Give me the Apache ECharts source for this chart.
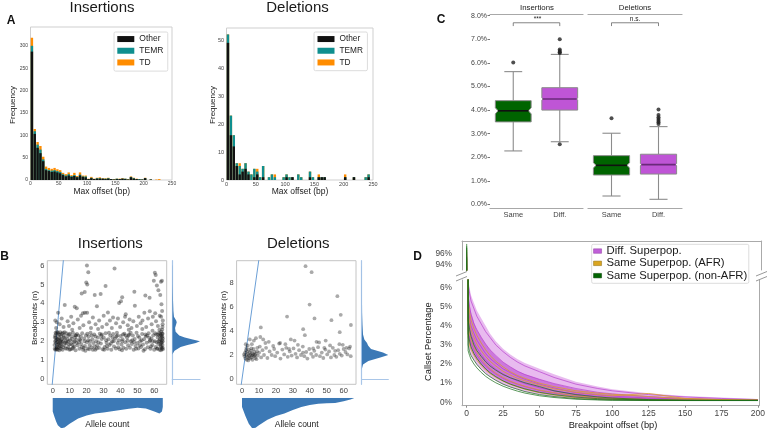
<!DOCTYPE html>
<html><head><meta charset="utf-8">
<script src="https://cdn.jsdelivr.net/npm/echarts@6/dist/echarts.min.js"></script>
<style>html,body{margin:0;padding:0;background:#fff}#c{width:768px;height:432px}</style>
</head><body><div id="c"></div>
<script>
// ---------- Panel A: histograms (5 bp bins) ----------
const histBins = [0,5,10,15,20,25,30,35,40,45,50,55,60,65,70,75,80,85,90,95,100,105,110,115,120,125,130,135,140,145,150,155,160,165,170,175,180,185,190,195,200,205,210,215,220,225,230,235,240,245];
const insOther = [287,103,72,60,42,22,20,18,19,17,15,11,8,10,7,9,6,10,7,6,2,4,2,3,3,3,2,3,2,1,2,2,3,2,1,6,3,2,1,1,4,0,1,0,0,0,0,0,0,0];
const insTEMR  = [13,6,7,8,4,3,2,3,3,3,3,2,2,3,2,2,1,2,1,2,0,1,0,1,1,0,1,1,0,0,1,0,0,1,0,1,1,0,1,0,0,0,0,0,0,0,0,0,0,0];
const insTD    = [18,5,6,8,6,5,5,4,5,4,4,3,3,4,2,5,2,5,2,2,1,2,1,1,2,1,1,1,0,1,0,1,1,0,1,1,1,1,0,0,1,0,0,0,1,2,0,0,0,0];
const delOther = [49,16,12,5,2,3,4,2,0,1,2,0,1,0,0,0,0,0,0,0,1,0,1,0,0,0,0,0,1,0,0,1,1,1,0,0,0,0,0,0,1,0,0,1,0,0,0,0,1,0];
const delTEMR  = [3,7,4,1,3,1,2,1,2,3,1,1,4,0,1,2,1,0,0,1,1,1,0,0,2,1,0,0,2,1,0,0,0,0,0,0,0,0,0,0,0,0,0,0,0,0,0,1,1,0];
const delTD    = [0,0,0,0,1,0,0,0,0,0,1,0,0,0,0,0,1,0,0,0,0,0,0,0,0,0,0,0,0,0,0,1,0,0,0,0,0,0,0,0,1,0,0,0,0,0,0,0,0,0];
const histCats = ['Other','TEMR','TD'];

// ---------- Panel B: scatter points [allele count, breakpoints] ----------
const insPoints = [
[1.2,1.6],[1.5,2.3],[1.8,1.9],[2.1,2.4],[2.3,1.7],[2.6,2.1],[2.9,1.55],[3.1,2.45],[3.4,1.85],[3.7,2.2],[4.0,1.65],[4.2,2.35],[4.5,1.95],[4.8,2.05],[5.1,1.75],[1.4,2.0],[1.9,2.2],[2.4,1.58],[2.8,1.95],[3.3,2.1],[3.9,1.52],[4.4,2.48],[5.0,2.25],[1.1,1.8],[2.0,2.05],[3.0,1.7],[3.6,1.9],[4.7,1.6],[1.7,2.45],[2.2,1.62],
[5.4,2.4],[5.8,1.55],[6.1,2.0],[6.5,2.3],[6.9,1.8],[7.2,2.15],[7.6,1.62],[8.0,2.42],[8.3,1.9],[8.7,2.1],[9.1,1.7],[9.5,2.35],[9.9,1.55],[10.3,2.05],[10.7,1.85],[11.1,2.25],[11.5,1.6],[11.9,2.45],[12.3,1.95],[12.7,1.72],[13.1,2.2],[13.5,1.52],[13.9,2.08],[14.3,2.38],[14.7,1.78],[5.6,1.95],[6.3,1.68],[7.0,2.48],[7.9,1.98],[8.9,2.28],[9.7,1.82],[10.5,1.58],[11.3,2.12],[12.1,1.66],[13.3,2.32],[14.1,1.9],[6.7,2.2],[8.5,1.6],[10.1,2.4],[12.9,2.0],
[15.2,2.3],[15.8,1.6],[16.3,2.05],[16.9,1.85],[17.4,2.42],[17.9,1.55],[18.5,2.15],[19.0,1.75],[19.6,2.3],[20.1,1.95],[20.7,1.62],[21.2,2.25],[21.8,1.8],[22.3,2.45],[22.9,1.68],[23.4,2.1],[24.0,1.9],[24.5,2.35],[25.1,1.55],[25.6,2.0],[26.2,1.78],[26.7,2.2],[27.3,1.65],[27.8,2.4],[28.4,1.88],[28.9,2.12],[29.5,1.58],[15.5,1.95],[17.1,1.7],[18.8,2.0],[20.4,2.4],[22.0,2.0],[23.7,1.55],[25.3,2.25],[27.0,1.95],[28.6,2.3],[19.3,1.5],[24.8,1.72],[16.6,2.25],[21.5,1.58],
[30.1,2.2],[30.7,1.7],[31.2,2.42],[31.8,1.92],[32.4,1.6],[32.9,2.1],[33.5,1.8],[34.0,2.3],[34.6,1.55],[35.1,2.0],[35.7,2.38],[36.2,1.72],[36.8,2.15],[37.3,1.62],[37.9,2.45],[38.4,1.9],[39.0,2.05],[39.5,1.58],[40.1,2.28],[40.6,1.82],[41.2,2.1],[41.7,1.66],[42.3,2.4],[42.8,1.95],[43.4,1.6],[43.9,2.2],[44.5,1.78],[30.4,1.55],[33.2,2.45],[36.0,2.0],[38.7,1.68],[41.5,2.35],[44.2,2.02],[31.5,2.05],[34.3,1.88],[37.6,2.25],[40.9,1.52],[43.1,2.3],
[45.1,2.35],[45.6,1.65],[46.2,2.0],[46.7,1.85],[47.3,2.3],[47.8,1.55],[48.4,2.12],[48.9,1.75],[49.5,2.45],[50.0,1.9],[50.6,1.62],[51.1,2.2],[51.7,2.0],[52.2,1.7],[52.8,2.38],[53.3,1.82],[53.9,2.1],[54.4,1.58],[55.0,2.25],[55.5,1.92],[56.1,1.68],[56.6,2.42],[57.2,1.98],[57.7,1.6],[58.3,2.15],[58.8,1.8],[59.4,2.32],[59.9,1.55],[46.0,2.45],[49.2,1.6],[52.5,2.05],[55.8,2.3],[58.0,1.72],[47.0,2.05],[50.3,2.28],[53.6,1.5],[57.0,2.18],
[60.3,2.0],[60.8,1.7],[61.2,2.35],[61.6,1.6],[62.0,2.2],[62.4,1.85],[62.8,2.45],[63.1,1.55],[63.4,2.1],[63.7,1.75],[64.0,2.3],[64.2,1.95],[64.4,1.6],[64.6,2.4],[64.8,1.8],[65.0,2.15],[64.1,2.5],[63.9,1.52],[64.5,2.05],[64.9,1.66],[63.5,2.38],[64.7,2.25],[62.6,1.98],[61.9,1.62],[64.3,1.9],[64.95,2.0],[63.2,2.28],[60.5,2.42],[65.0,1.58],[64.65,2.6],
[1.3,2.2],[2.7,1.8],[3.5,2.35],[4.3,1.75],[5.2,2.1],[1.6,1.55],[2.5,2.5],[3.8,2.05],[4.9,1.85],[6.0,2.45],[7.4,1.9],[9.3,2.0],[11.7,1.8],[13.7,2.3],[16.0,2.1],[18.2,1.65],[20.9,2.05],[23.1,2.3],[26.0,1.62],[29.0,2.35],[32.0,1.75],[35.4,2.2],[38.1,2.3],[41.0,2.0],[44.8,2.3],[48.1,1.95],[51.4,1.78],[54.7,2.35],[57.5,2.05],[59.1,2.0],[61.4,1.95],[62.2,2.35],[63.6,1.85],[64.35,2.2],[64.85,2.4],[64.05,1.7],[63.0,2.05],
[20.2,6.0],[21.0,5.65],[36.5,5.85],[19.8,5.1],[20.4,5.0],[31.2,4.92],[60.3,5.62],[60.8,5.5],[63.9,5.15],[59.7,5.2],[61.5,4.95],[64.5,5.2],[17.1,4.52],[18.9,4.6],[24.8,4.45],[28.3,4.5],[48.2,4.62],[54.7,4.42],[57.2,4.3],[62.4,4.7],[63.5,4.45],[41.0,4.32],[39.2,4.02],[40.3,4.12],[7.1,3.92],[13.0,3.82],[14.2,3.75],[26.1,3.85],[48.5,3.88],[64.2,3.95],[3.2,3.5],[17.8,3.48],[19.0,3.5],[20.3,3.5],[32.6,3.52],[43.1,3.42],[54.1,3.5],[57.3,3.58],[59.1,3.3],[60.5,3.48],[64.6,3.6],
[1.5,3.1],[2.4,3.0],[4.1,2.9],[5.3,3.2],[6.4,2.75],[8.8,3.05],[9.6,2.8],[10.9,3.3],[12.2,2.95],[14.8,3.15],[15.9,2.7],[16.7,3.35],[18.1,2.85],[21.5,3.0],[22.6,2.7],[23.7,3.25],[25.3,2.9],[27.4,3.1],[29.2,2.75],[30.1,3.35],[31.9,2.9],[33.8,3.1],[34.9,2.7],[35.6,3.25],[37.4,2.95],[38.5,3.2],[39.8,2.75],[41.6,3.0],[42.7,3.3],[44.3,2.85],[45.4,3.15],[46.5,2.7],[47.6,3.05],[49.7,2.8],[50.8,3.3],[51.9,2.95],[53.0,3.1],[55.2,2.75],[56.3,3.2],[58.4,2.9],[61.0,3.05],[62.1,2.8],[63.2,3.35],[64.8,2.75],[65.0,3.1],[64.0,3.3],[64.9,2.9],[63.0,2.6],[2.0,2.7],[11.5,2.6],[26.8,2.65],[44.9,2.6],[52.9,2.65],[58.9,2.55]
];
const delPoints = [
[1.5,1.9],[1.8,2.2],[2.0,1.7],[2.3,2.4],[2.5,2.0],[2.8,1.6],[3.0,2.3],[3.2,1.85],[3.5,2.1],[3.7,1.55],[4.0,2.45],[4.2,1.95],[4.5,2.2],[4.8,1.7],[5.0,2.0],[5.3,2.35],[5.6,1.8],[5.9,2.15],[6.2,1.6],[6.5,2.05],[6.8,2.5],[7.1,1.9],[7.4,2.25],[7.8,1.75],[8.1,2.1],[8.5,1.65],[8.9,2.3],[9.3,1.95],[1.2,2.05],[2.6,2.6],[3.9,1.75],[5.5,2.55],[6.0,1.95],[7.6,2.0],[9.0,2.6],[3.4,2.8],[4.6,3.3],[5.8,2.9],[2.2,2.9],[10.1,2.2],
[10.5,2.7],[11.3,1.8],[12.1,2.4],[13.0,2.0],[14.2,2.6],[15.0,1.75],[16.3,2.3],[17.5,2.0],[18.4,2.75],[19.6,1.9],[20.8,2.2],[21.9,2.95],[22.7,1.7],[23.8,2.45],[24.9,2.05],[26.1,2.6],[27.0,1.85],[28.2,2.3],[29.3,1.95],[30.4,2.55],[31.6,2.1],[32.5,1.8],[33.7,2.4],[34.8,2.0],[35.9,2.7],[36.8,1.9],[37.9,2.25],[38.6,1.7],[39.7,2.5],[40.8,2.1],[41.9,1.85],[42.7,2.35],[43.8,2.0],[44.9,2.65],[46.0,1.9],[47.1,2.2],[48.0,1.75],[49.2,2.45],[50.3,2.05],[51.4,2.3],[52.5,1.8],[53.6,2.6],[54.5,2.0],[55.7,1.85],[56.8,2.4],[57.7,2.1],[58.9,1.95],[60.0,2.5],[61.1,2.25],[62.2,2.05],[63.3,2.55],[64.2,1.9],[13.8,3.0],[25.6,2.9],[33.0,2.85],[45.5,3.05],[52.0,2.8],[59.5,2.85],[63.8,2.7],[19.0,2.5],[27.8,2.5],[36.0,2.2],[42.0,2.55],[48.6,2.6],[55.0,2.35],[61.7,2.6],[10.8,3.5],[12.5,3.3],[15.8,3.1],[8.2,3.4],[7.0,3.2],
[37.5,9.4],[41.1,8.9],[56.3,6.9],[39.9,6.2],[26.6,5.2],[42.8,5.05],[58.3,5.35],[52.8,4.9],[64.3,4.5],[11.1,4.3],[36.1,4.15],[37.1,3.65],[57.7,3.9],[28.8,3.3],[49.4,3.2],[57.5,2.9],[22.5,3.0],[44.0,3.1],[31.0,3.2]
];
const diagLine = [[-1,-1],[11,11]];           // y = x reference line
const bTicksX = [0,10,20,30,40,50,60];
const bInsTicksY = [0,1,2,3,4,5,6];
const bDelTicksY = [0,2,4,6,8];
// marginal density curves (relative height)
const insKdeYv = [1.3,1.5,1.7,1.8,1.9,2.0,2.1,2.2,2.3,2.5,2.7,2.9,3.0,3.1,3.3,3.6,4.0,4.5,5.0,6.0];
const insKdeYw = [0,0.08,0.3,0.55,0.85,1.0,0.7,0.45,0.25,0.12,0.1,0.14,0.16,0.14,0.06,0.04,0.03,0.02,0.01,0.005];
const insKdeXv = [0,1,2,3,5,7,10,15,20,25,30,35,40,45,50,55,60,63,64.5,65];
const insKdeXd = [0.45,0.62,0.78,0.9,1.0,0.97,0.85,0.68,0.58,0.52,0.48,0.44,0.4,0.36,0.33,0.35,0.45,0.52,0.45,0.3];
const delKdeYv = [0.8,1.2,1.5,1.8,2.0,2.2,2.5,2.8,3.0,3.3,3.7,4.5,5.5,7.0,9.4];
const delKdeYw = [0,0.05,0.25,0.7,1.0,0.8,0.35,0.24,0.2,0.1,0.05,0.03,0.015,0.01,0.005];
const delKdeXv = [0,2,4,6,8,10,15,20,25,30,35,40,45,50,55,60,64,66];
const delKdeXd = [0.3,0.6,0.85,1.0,0.98,0.9,0.72,0.6,0.52,0.4,0.3,0.24,0.2,0.18,0.17,0.12,0.06,0.02];

// ---------- Panel C: notched boxes [pos, min, q1, median, q3, max] ----------
const cGroups = ['Same','Diff.'];
const insSameBox = [0, 2.27, 3.5, 3.97, 4.4, 5.63];
const insDiffBox = [1, 2.66, 4.0, 4.47, 4.95, 6.36];
const delSameBox = [0, 0.36, 1.25, 1.66, 2.07, 3.02];
const delDiffBox = [1, 0.22, 1.29, 1.69, 2.13, 3.3];
const notchHalf = {insSame:0.13, insDiff:0.05, delSame:0.11, delDiff:0.05};
const insOutliers = [[0,6.02],[1,7.0],[1,6.57],[1,6.5],[1,6.45],[1,6.42],[1,2.55]];
const delOutliers = [[0,3.65],[1,4.03],[1,3.79],[1,3.7],[1,3.62],[1,3.55],[1,3.48],[1,3.41]];
const bracket = [[0,7.56],[0,7.7],[1,7.7],[1,7.56]];

// ---------- Panel D: callset percentage curves ----------
const dX = [0,1,2,3,5,7,10,13,16,20,25,30,35,40,50,60,75,90,100,125,150,175,200];
const dTicksX = [0,25,50,75,100,125,150,175,200];
const dUpper  = [98.0,6.5,6.0,5.6,5.2,4.8,4.4,4.0,3.6,3.2,2.8,2.5,2.25,2.05,1.75,1.47,1.08,0.82,0.68,0.47,0.33,0.25,0.17];
const dLower  = [93.2,3.0,2.7,2.45,2.2,1.95,1.7,1.5,1.33,1.12,0.92,0.78,0.66,0.55,0.4,0.3,0.2,0.15,0.12,0.1,0.09,0.09,0.1];
const dUpper2 = [97.0,5.6,5.1,4.7,4.2,3.8,3.4,3.05,2.75,2.42,2.1,1.85,1.63,1.47,1.2,0.97,0.7,0.5,0.42,0.3,0.2,0.16,0.12];
const dLower2 = [94.0,3.4,3.05,2.8,2.5,2.25,1.95,1.72,1.53,1.32,1.1,0.93,0.8,0.69,0.52,0.4,0.27,0.2,0.16,0.12,0.1,0.1,0.1];
const diffLines = [
 [93.6,6.2,5.7,5.3,4.9,4.5,4.1,3.7,3.4,3.0,2.65,2.35,2.1,1.9,1.6,1.3,0.95,0.72,0.6,0.4,0.28,0.2,0.14],
 [94.2,5.6,5.0,4.6,4.1,3.8,3.4,3.05,2.75,2.45,2.1,1.85,1.62,1.45,1.2,0.98,0.72,0.52,0.44,0.3,0.2,0.15,0.12],
 [95.5,5.0,4.4,4.0,3.6,3.25,2.9,2.55,2.3,2.05,1.75,1.55,1.35,1.2,0.95,0.75,0.5,0.38,0.32,0.22,0.16,0.13,0.11],
 [96.2,4.4,3.9,3.55,3.15,2.85,2.5,2.2,1.98,1.72,1.48,1.28,1.12,0.98,0.76,0.6,0.42,0.3,0.25,0.18,0.14,0.12,0.1],
 [94.8,3.8,3.4,3.1,2.75,2.45,2.15,1.9,1.7,1.48,1.25,1.08,0.94,0.82,0.62,0.48,0.33,0.24,0.2,0.15,0.12,0.11,0.1]
];
const afrLines = [
 [95.0,5.3,4.7,4.3,3.85,3.5,3.1,2.75,2.45,2.15,1.85,1.6,1.4,1.25,1.0,0.82,0.6,0.48,0.42,0.3,0.18,0.13,0.11],
 [96.6,4.1,3.6,3.25,2.9,2.6,2.25,1.98,1.76,1.52,1.3,1.1,0.96,0.84,0.64,0.5,0.34,0.25,0.21,0.15,0.12,0.1,0.1],
 [93.9,3.4,3.0,2.75,2.45,2.2,1.92,1.68,1.5,1.3,1.1,0.93,0.8,0.68,0.5,0.38,0.24,0.18,0.15,0.12,0.1,0.1,0.1],
 [95.8,4.7,4.2,3.8,3.4,3.05,2.7,2.4,2.15,1.9,1.62,1.42,1.25,1.12,0.9,0.7,0.52,0.4,0.34,0.46,0.2,0.14,0.11]
];
const nonAfrLines = [
 [97.2,3.6,3.2,2.9,2.55,2.3,2.0,1.75,1.55,1.34,1.12,0.95,0.82,0.7,0.52,0.4,0.27,0.19,0.16,0.12,0.1,0.1,0.1],
 [96.9,3.0,2.65,2.45,2.2,1.98,1.72,1.5,1.34,1.15,0.95,0.8,0.68,0.56,0.4,0.3,0.19,0.14,0.12,0.1,0.09,0.09,0.09],
 [97.6,4.3,3.8,3.45,3.0,2.7,2.4,2.12,1.9,1.68,1.45,1.28,1.15,1.02,0.82,0.6,0.4,0.28,0.22,0.14,0.11,0.1,0.1],
 [95.3,2.7,2.45,2.25,2.0,1.8,1.56,1.36,1.2,1.02,0.84,0.7,0.58,0.48,0.34,0.25,0.16,0.12,0.1,0.09,0.09,0.09,0.09]
];
const dNames = ['Diff. Superpop.','Same Superpop. (AFR)','Same Superpop. (non-AFR)'];

// ---------- styles ----------
const FONT = '"Liberation Sans", Arial, Helvetica, sans-serif';
const C_OTHER='#111111', C_TEMR='#0f8f8f', C_TD='#ff8c00';
const C_GREEN='#006400', C_PURPLE='#bf55d6', C_ORANGE='#d9a21b';
const C_KDE='#3c79b6', C_MLINE='#a9c6e8';
const lab = '#444';

const chart = echarts.init(document.getElementById('c'), null, {renderer:'canvas', width:768, height:432});

function polygonSeries(xi, yi, pts, fill, opacity, z) {
  return {type:'custom', xAxisIndex:xi, yAxisIndex:yi, data:pts, clip:true, silent:true, z:z||2,
    renderItem:function(params, api){
      if (params.dataIndex !== 0) return null;
      const p = pts.map(q => api.coord(q));
      const cs = params.coordSys;
      return {type:'group', clipPath:{type:'rect', shape:{x:cs.x, y:cs.y, width:cs.width, height:cs.height}},
        children:[{type:'polygon', shape:{points:p}, style:{fill:fill, opacity:opacity}}]};
    }};
}
function boxSeries(xi, yi, box, notch, fill, medColor, indent) {
  return {type:'custom', xAxisIndex:xi, yAxisIndex:yi, data:[box.concat([notch])], silent:true, z:3,
    renderItem:function(params, api){
      const x=api.value(0), lo=api.value(1), q1=api.value(2), med=api.value(3), q3=api.value(4), hi=api.value(5), nh=api.value(6);
      const unit = api.size([1,0])[0];
      const hw = unit*0.385, cw = hw*0.5;
      const cm = api.coord([x,med]); const cx = cm[0], ym = cm[1];
      const Y = v => api.coord([x,v])[1];
      const yq1=Y(q1), yq3=Y(q3), ylo=Y(lo), yhi=Y(hi), yn1=Y(med-nh), yn2=Y(med+nh);
      const L=cx-hw, R=cx+hw, d=indent;
      const ws = {stroke:'#8c8c8c', lineWidth:1.1};
      return {type:'group', children:[
        {type:'line', shape:{x1:cx,y1:yq3,x2:cx,y2:yhi}, style:ws},
        {type:'line', shape:{x1:cx,y1:yq1,x2:cx,y2:ylo}, style:ws},
        {type:'line', shape:{x1:cx-cw,y1:yhi,x2:cx+cw,y2:yhi}, style:ws},
        {type:'line', shape:{x1:cx-cw,y1:ylo,x2:cx+cw,y2:ylo}, style:ws},
        {type:'polygon', shape:{points:[[L,yq1],[L,yn1],[L+d,ym],[L,yn2],[L,yq3],[R,yq3],[R,yn2],[R-d,ym],[R,yn1],[R,yq1]]},
          style:{fill:fill, stroke:'#8a8a8a', lineWidth:1}},
        {type:'line', shape:{x1:L+d,y1:ym,x2:R-d,y2:ym}, style:{stroke:medColor, lineWidth:1.6}}
      ]};
    }};
}
function barSet(xi, yi, other, temr, td) {
  const pos = histBins.map(b => b + 2.5);
  const s1 = other.map((v,i)=>v+temr[i]);
  const s2 = s1.map((v,i)=>v+td[i]);
  const mk = (name, vals, color) => ({type:'bar', name:name, xAxisIndex:xi, yAxisIndex:yi,
    data: pos.map((p,i)=>[p, vals[i]]), barWidth:2.4, barGap:'-100%', itemStyle:{color:color}, silent:true});
  return [mk('TD', s2, C_TD), mk('TEMR', s1, C_TEMR), mk('Other', other, C_OTHER)];
}
function dLine(name, vals, color, lower, w, op) {
  return {type:'line', name:name, xAxisIndex: lower?15:14, yAxisIndex: lower?12:10,
    data: dX.map((x,i)=>[x, vals[i]]), showSymbol:false, symbol:'none', clip:true, silent:true, z:4,
    lineStyle:{color:color, width:w||0.9, opacity:op||0.75}, itemStyle:{color:color}};
}

const hidden = {show:false};
const noLine = {axisLine:{show:false}, axisTick:{show:false}, splitLine:{show:false}};

const xAxes = [
  Object.assign({gridIndex:0, type:'value', min:0, max:250, interval:50, axisLabel:{fontSize:5, color:lab, margin:1.5}}, noLine),
  Object.assign({gridIndex:1, type:'value', min:0, max:250, interval:50, axisLabel:{fontSize:5.5, color:lab, margin:1.5}}, noLine),
  Object.assign({gridIndex:2, type:'value', min:-3.2, max:67.3, axisLabel:{customValues:bTicksX, fontSize:7.5, color:lab, margin:3}}, noLine),
  {gridIndex:3, type:'value', min:0, max:1, axisLine:{show:true, onZero:true, lineStyle:{color:C_MLINE, width:1.2}}, axisTick:hidden, axisLabel:hidden, splitLine:hidden},
  {gridIndex:4, type:'value', min:-3.2, max:67.3, show:false},
  Object.assign({gridIndex:5, type:'value', min:-3.2, max:67.3, axisLabel:{customValues:bTicksX, fontSize:7.5, color:lab, margin:3}}, noLine),
  {gridIndex:6, type:'value', min:0, max:1, axisLine:{show:true, onZero:true, lineStyle:{color:C_MLINE, width:1.2}}, axisTick:hidden, axisLabel:hidden, splitLine:hidden},
  {gridIndex:7, type:'value', min:-3.2, max:67.3, show:false},
  {gridIndex:8, type:'value', min:-0.5, max:1.5, show:false},
  {gridIndex:8, type:'category', data:cGroups, position:'bottom', offset:4, axisLine:{show:true, onZero:false, lineStyle:{color:'#a8a8a8', width:1.2}}, axisTick:hidden, axisLabel:{fontSize:7.5, color:lab, margin:2}},
  {gridIndex:8, type:'category', data:cGroups, position:'top', offset:1.7, axisLine:{show:true, onZero:false, lineStyle:{color:'#a8a8a8', width:1.2}}, axisTick:hidden, axisLabel:hidden},
  {gridIndex:9, type:'value', min:-0.5, max:1.5, show:false},
  {gridIndex:9, type:'category', data:cGroups, position:'bottom', offset:4, axisLine:{show:true, onZero:false, lineStyle:{color:'#a8a8a8', width:1.2}}, axisTick:hidden, axisLabel:{fontSize:7.5, color:lab, margin:2}},
  {gridIndex:9, type:'category', data:cGroups, position:'top', offset:1.7, axisLine:{show:true, onZero:false, lineStyle:{color:'#a8a8a8', width:1.2}}, axisTick:hidden, axisLabel:hidden},
  {gridIndex:10, type:'value', min:-3.2, max:201.1, position:'top', axisLine:{show:true, onZero:false, lineStyle:{color:'#aaa'}}, axisTick:hidden, axisLabel:hidden, splitLine:hidden},
  {gridIndex:11, type:'value', min:-3.2, max:201.1, position:'bottom', axisLine:{show:true, onZero:false, lineStyle:{color:'#aaa'}},
    axisTick:{show:true, length:2, customValues:dTicksX, lineStyle:{color:'#888'}}, axisLabel:{customValues:dTicksX, fontSize:8.5, color:lab, margin:3}, splitLine:hidden}
];
const yAxes = [
  Object.assign({gridIndex:0, type:'value', min:0, max:342, interval:50, axisLabel:{showMaxLabel:false, fontSize:5, color:lab, margin:2.5}}, noLine),
  Object.assign({gridIndex:1, type:'value', min:0, max:54.3, interval:10, axisLabel:{showMaxLabel:false, fontSize:5.5, color:lab, margin:2.5}}, noLine),
  Object.assign({gridIndex:2, type:'value', min:-0.28, max:6.26, axisLabel:{customValues:bInsTicksY, fontSize:7.5, color:lab, margin:3}}, noLine),
  {gridIndex:3, type:'value', min:-0.28, max:6.26, axisLine:{show:true, onZero:false, lineStyle:{color:C_MLINE, width:1.2}}, axisTick:hidden, axisLabel:hidden, splitLine:hidden},
  {gridIndex:4, type:'value', min:0, max:1, inverse:true, show:false},
  Object.assign({gridIndex:5, type:'value', min:-0.44, max:9.86, axisLabel:{customValues:bDelTicksY, fontSize:7.5, color:lab, margin:3}}, noLine),
  {gridIndex:6, type:'value', min:-0.44, max:9.86, axisLine:{show:true, onZero:false, lineStyle:{color:C_MLINE, width:1.2}}, axisTick:hidden, axisLabel:hidden, splitLine:hidden},
  {gridIndex:7, type:'value', min:0, max:1, inverse:true, show:false},
  {gridIndex:8, type:'value', min:0, max:8, interval:1, axisLine:{show:false, onZero:false}, splitLine:hidden,
    axisTick:{show:true, length:2.5, lineStyle:{color:'#777'}}, axisLabel:{formatter:v=>v.toFixed(1)+'%', fontSize:7, color:lab, margin:3}},
  {gridIndex:9, type:'value', min:0, max:8, show:false},
  {gridIndex:10, type:'value', min:93.15, max:98.1, position:'left', axisLine:{show:true, onZero:false, lineStyle:{color:'#aaa'}}, axisTick:hidden, splitLine:hidden,
    axisLabel:{customValues:[94,96], formatter:'{value}%', fontSize:8.3, color:lab, margin:10}},
  {gridIndex:10, type:'value', min:93.15, max:98.1, position:'right', axisLine:{show:true, onZero:false, lineStyle:{color:'#aaa'}}, axisTick:hidden, axisLabel:hidden, splitLine:hidden},
  {gridIndex:11, type:'value', min:-0.18, max:6.4, position:'left', axisLine:{show:true, onZero:false, lineStyle:{color:'#aaa'}}, axisTick:hidden, splitLine:hidden,
    axisLabel:{customValues:[0,1,2,3,4,5,6], formatter:'{value}%', fontSize:8.3, color:lab, margin:10}},
  {gridIndex:11, type:'value', min:-0.18, max:6.4, position:'right', axisLine:{show:true, onZero:false, lineStyle:{color:'#aaa'}}, axisTick:hidden, axisLabel:hidden, splitLine:hidden}
];

const series = [];
barSet(0,0,insOther,insTEMR,insTD).forEach(s=>series.push(s));
barSet(1,1,delOther,delTEMR,delTD).forEach(s=>series.push(s));
// B scatter
const scatStyle = {color:'rgba(20,20,20,0.5)'};
series.push({type:'scatter', xAxisIndex:2, yAxisIndex:2, data:insPoints, symbolSize:4, itemStyle:scatStyle, silent:true, z:3});
series.push({type:'line', xAxisIndex:2, yAxisIndex:2, data:diagLine, showSymbol:false, symbol:'none', clip:true, silent:true, lineStyle:{color:'#6b9fd6', width:1}});
series.push({type:'scatter', xAxisIndex:5, yAxisIndex:5, data:delPoints, symbolSize:3.8, itemStyle:{color:'rgba(20,20,20,0.45)'}, silent:true, z:3});
series.push({type:'line', xAxisIndex:5, yAxisIndex:5, data:diagLine, showSymbol:false, symbol:'none', clip:true, silent:true, lineStyle:{color:'#6b9fd6', width:1}});
// marginal densities
function rightKde(yv, w) { const p = yv.map((y,i)=>[w[i], y]); p.push([0, yv[yv.length-1]]); p.push([0, yv[0]]); return p; }
function bottomKde(xv, d) { const p = [[xv[0],0]].concat(xv.map((x,i)=>[x, d[i]])); p.push([xv[xv.length-1],0]); return p; }
series.push(polygonSeries(3,3, rightKde(insKdeYv, insKdeYw), C_KDE, 1));
series.push(polygonSeries(4,4, bottomKde(insKdeXv, insKdeXd), C_KDE, 1));
series.push(polygonSeries(6,6, rightKde(delKdeYv, delKdeYw), C_KDE, 1));
series.push(polygonSeries(7,7, bottomKde(delKdeXv, delKdeXd), C_KDE, 1));
// C boxes
series.push(boxSeries(8,8, insSameBox, notchHalf.insSame, C_GREEN, '#111', 2.7));
series.push(boxSeries(8,8, insDiffBox, notchHalf.insDiff, C_PURPLE, '#6a2a7a', 1.0));
series.push(boxSeries(11,9, delSameBox, notchHalf.delSame, C_GREEN, '#111', 2.7));
series.push(boxSeries(11,9, delDiffBox, notchHalf.delDiff, C_PURPLE, '#6a2a7a', 1.0));
series.push({type:'scatter', xAxisIndex:8, yAxisIndex:8, data:insOutliers, symbolSize:4, itemStyle:{color:'#222'}, silent:true, z:4});
series.push({type:'scatter', xAxisIndex:11, yAxisIndex:9, data:delOutliers, symbolSize:4, itemStyle:{color:'#222'}, silent:true, z:4});
series.push({type:'line', xAxisIndex:8, yAxisIndex:8, data:bracket, showSymbol:false, symbol:'none', silent:true, lineStyle:{color:'#666', width:0.8}});
series.push({type:'line', xAxisIndex:11, yAxisIndex:9, data:bracket, showSymbol:false, symbol:'none', silent:true, lineStyle:{color:'#666', width:0.8}});
// D bands + lines (upper and lower parts of broken axis)
function band(U, L) { return dX.map((x,i)=>[x, U[i]]).concat(dX.map((x,i)=>[x, L[i]]).reverse()); }
[[14,10],[15,12]].forEach(ax => {
  series.push(polygonSeries(ax[0], ax[1], band(dUpper, dLower), '#c75ad9', 0.42, 2));
  series.push(polygonSeries(ax[0], ax[1], band(dUpper2, dLower2), '#b540cc', 0.55, 2));
});
[false,true].forEach(lower => {
  diffLines.forEach(v => series.push(dLine(dNames[0], v, '#b53ccc', lower, 0.9, 0.75)));
  afrLines.forEach(v => series.push(dLine(dNames[1], v, C_ORANGE, lower, 0.9, 0.8)));
  nonAfrLines.forEach(v => series.push(dLine(dNames[2], v, '#1a6e1a', lower, 0.9, 0.8)));
});

const txt = (text, x, y, size, opts) => Object.assign({type:'text', x:x, y:y, silent:true, z:10,
  style:{text:text, fontSize:size, fontFamily:FONT, fill:'#1a1a1a', align:'center', verticalAlign:'middle'}}, opts||{});
const rtxt = (text, x, y, size) => ({type:'text', x:x, y:y, rotation:Math.PI/2, silent:true, z:10,
  style:{text:text, fontSize:size, fontFamily:FONT, fill:'#1a1a1a', align:'center', verticalAlign:'middle'}});
const bold = (t, x, y) => ({type:'text', x:x, y:y, silent:true, z:10,
  style:{text:t, fontSize:12, fontWeight:'bold', fontFamily:FONT, fill:'#111', align:'center', verticalAlign:'middle'}});
const brk = (x1,y1,x2,y2) => ({type:'line', silent:true, z:10, shape:{x1:x1,y1:y1,x2:x2,y2:y2}, style:{stroke:'#999', lineWidth:1}});

const graphics = [
  bold('A', 11, 21), bold('B', 4.5, 256.7), bold('C', 441, 20), bold('D', 417.5, 256.7),
  txt('Insertions', 102, 7.6, 15), txt('Deletions', 297.5, 7.4, 15),
  txt('Insertions', 110.3, 244, 15), txt('Deletions', 298.3, 243.5, 15),
  rtxt('Frequency', 12.5, 105, 8), txt('Max offset (bp)', 101.7, 191.5, 8.5),
  rtxt('Frequency', 212.7, 105, 8), txt('Max offset (bp)', 300, 191.5, 8.5),
  rtxt('Breakpoints (n)', 35, 318, 8), txt('Allele count', 107.3, 425, 8.5),
  rtxt('Breakpoints (n)', 224, 318, 8), txt('Allele count', 296.7, 425, 8.5),
  txt('Insertions', 537, 8.3, 7.8), txt('Deletions', 635, 8.3, 7.8),
  txt('***', 537.5, 19.6, 6.5), txt('n.s.', 635, 19.3, 6.5),
  rtxt('Callset Percentage', 428.3, 341.7, 9.3), txt('Breakpoint offset (bp)', 613, 425.7, 9.3),
  brk(456,276,467,271.5), brk(456,281,467,276.5), brk(756,276,767,271.5), brk(756,281,767,276.5)
];

const legendBase = {orient:'vertical', icon:'rect', itemGap:0, selectedMode:false, borderColor:'#dcdcdc', borderWidth:1, borderRadius:1.5,
  backgroundColor:'rgba(255,255,255,0.85)'};
const histLegendData = [{name:'Other', itemStyle:{color:C_OTHER}},{name:'TEMR', itemStyle:{color:C_TEMR}},{name:'TD', itemStyle:{color:C_TD}}];

chart.setOption({
  animation:false,
  backgroundColor:'#ffffff',
  textStyle:{fontFamily:FONT},
  grid:[
    {left:30.5, top:27, width:141.5, height:153, show:true, borderColor:'#cfcfcf', borderWidth:1},
    {left:226.5, top:28, width:146.5, height:152, show:true, borderColor:'#cfcfcf', borderWidth:1},
    {left:47.3, top:260.7, width:119.4, height:123.6, show:true, borderColor:'#c4c4c4', borderWidth:1},
    {left:172.3, top:260.7, width:27.7, height:123.6},
    {left:47.3, top:397.7, width:119.4, height:30.6},
    {left:236.6, top:260.7, width:119.4, height:123.6, show:true, borderColor:'#c4c4c4', borderWidth:1},
    {left:361.7, top:260.7, width:26.6, height:123.6},
    {left:236.6, top:397.7, width:119.4, height:30.6},
    {left:490, top:15.7, width:93, height:188.8},
    {left:588, top:15.7, width:94, height:188.8},
    {left:462, top:241, width:299.7, height:29},
    {left:462, top:280, width:299.7, height:125.7}
  ],
  xAxis:xAxes,
  yAxis:yAxes,
  legend:[
    Object.assign({}, legendBase, {left:114, top:32, itemWidth:17, itemHeight:6, padding:[1.2,4.4,2.8,3.3],
      data:histLegendData, textStyle:{fontSize:8.5, color:'#222', lineHeight:11.7, fontFamily:FONT}}),
    Object.assign({}, legendBase, {left:314, top:32, itemWidth:17, itemHeight:6, padding:[1.2,4.4,2.4,3.5],
      data:histLegendData, textStyle:{fontSize:8.3, color:'#222', lineHeight:11.7, fontFamily:FONT}}),
    Object.assign({}, legendBase, {left:591.7, top:244.3, itemWidth:8, itemHeight:4.5, padding:[0.6,1.6,1.5,1.6],
      data:[{name:dNames[0], itemStyle:{color:'#c060d8', borderColor:'#8e3aa0', borderWidth:0.5}},
            {name:dNames[1], itemStyle:{color:'#daa520', borderColor:'#8a6a10', borderWidth:0.5}},
            {name:dNames[2], itemStyle:{color:'#006400', borderColor:'#003800', borderWidth:0.5}}],
      textStyle:{fontSize:11.3, color:'#1a1a1a', lineHeight:12.3, fontFamily:FONT}})
  ],
  graphic:{elements:graphics},
  series:series
});
</script>
</body></html>
